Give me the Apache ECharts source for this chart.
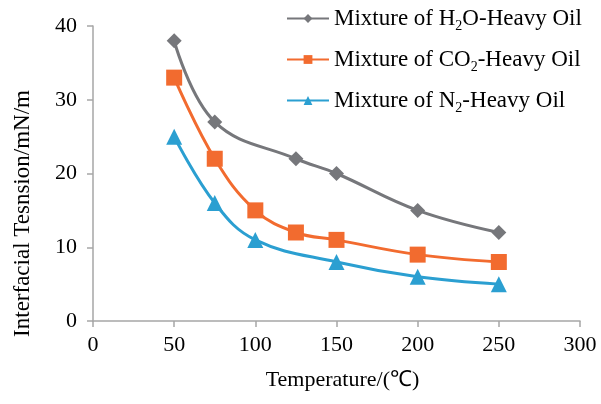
<!DOCTYPE html>
<html><head><meta charset="utf-8">
<script src="https://cdn.jsdelivr.net/npm/echarts@6/dist/echarts.min.js"></script>
<style>html,body{margin:0;padding:0;background:#fff}#c{width:601px;height:404px}</style>
</head><body><div id="c"></div>
<script>
const seriesNames = ['Mixture of H{sub|2}O-Heavy Oil','Mixture of CO{sub|2}-Heavy Oil','Mixture of N{sub|2}-Heavy Oil'];
const h2oData = [[50,38],[75,27],[125,22],[150,20],[200,15],[250,12]];
const co2Data = [[50,33],[75,22],[100,15],[125,12],[150,11],[200,9],[250,8]];
const n2Data = [[50,25],[75,16],[100,11],[150,8],[200,6],[250,5]];
const xTicks = [0,50,100,150,200,250,300];
const yTicks = [0,10,20,30,40];

const font = 'Liberation Serif, Times New Roman, serif';
const colors = ['#76777b','#f26b2f','#2b9fd1'];
const symbols = ['diamond','rect','triangle'];
const sizes = [15,16,16];
const datas = [h2oData, co2Data, n2Data];

const chart = echarts.init(document.getElementById('c'));
chart.setOption({
  animation:false,
  textStyle:{fontFamily:font},
  grid:{left:93,right:21,top:26,bottom:83},
  legend:{
    orient:'vertical', left:281, top:2, itemGap:15,
    itemWidth:42, itemHeight:11,
    textStyle:{fontFamily:font,fontSize:23,color:'#000',
      rich:{sub:{fontFamily:font,fontSize:14,verticalAlign:'bottom',padding:[15,0,0,0],color:'#000'}}},
    data:seriesNames
  },
  xAxis:{
    type:'value', min:xTicks[0], max:xTicks[xTicks.length-1], interval:50,
    name:'Temperature/(℃)', nameLocation:'middle', nameGap:48,
    nameTextStyle:{fontFamily:font,fontSize:22,color:'#000',padding:[0,0,0,12]},
    axisLine:{show:true,lineStyle:{color:'#a6a6a6',width:1.5}},
    axisTick:{show:true,length:6,lineStyle:{color:'#a6a6a6',width:1.5}},
    axisLabel:{fontFamily:font,fontSize:22,color:'#000',margin:13},
    splitLine:{show:false}
  },
  yAxis:{
    type:'value', min:yTicks[0], max:yTicks[yTicks.length-1], interval:10,
    name:'Interfacial Tesnsion/mN/m', nameLocation:'middle', nameGap:59,
    nameTextStyle:{fontFamily:font,fontSize:23,color:'#000',padding:[0,80,0,0]},
    axisLine:{show:true,lineStyle:{color:'#a6a6a6',width:1.5}},
    axisTick:{show:true,length:6,lineStyle:{color:'#a6a6a6',width:1.5}},
    axisLabel:{fontFamily:font,fontSize:22,color:'#000',margin:16},
    splitLine:{show:false}
  },
  series: datas.map((d,i)=>({
    name:seriesNames[i], type:'line', data:d, smooth:0.4,
    symbol:symbols[i], symbolSize:sizes[i],
    lineStyle:{color:colors[i],width:3},
    itemStyle:{color:colors[i]}
  }))
});
</script></body></html>
